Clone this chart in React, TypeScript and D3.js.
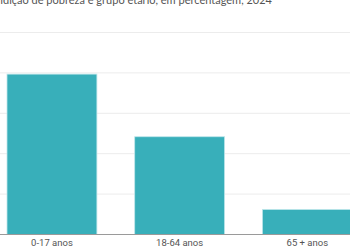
import React from "react";
import * as d3 from "d3";

const categories = ["0-17 anos", "18-64 anos", "65 + anos"];
const values = [39.7, 24.2, 6.2];
const yTicks = [0, 10, 20, 30, 40, 50];
const title = "Proporção da população em condição de pobreza e grupo etário, em percentagem, 2024";

export default function App() {
  const W = 350;
  const H = 250;
  const x = d3
    .scaleBand<string>()
    .domain(categories)
    .range([-11.9, 371.2])
    .paddingInner(0.296)
    .paddingOuter(0.148);
  const y = d3.scaleLinear().domain([0, 50]).range([234.5, 32.5]);

  return (
    <>
      <style>{`body{margin:0}`}</style>
      <svg
        width={W}
        height={H}
        style={{ position: "absolute", left: 0, top: 0, display: "block" }}
      >
        <rect x={0} y={0} width={W} height={H} fill="#fff" />
        <text
          x={272}
          y={4}
          textAnchor="end"
          fontFamily="Lato"
          fontSize={11}
          fill="#555"
        >
          {title}
        </text>
        {yTicks.slice(1).map((t) => (
          <line
            key={t}
            x1={0}
            x2={W}
            y1={y(t)}
            y2={y(t)}
            stroke="#ececec"
            strokeWidth={1}
          />
        ))}
        {categories.map((c, i) => (
          <rect
            key={c}
            x={x(c)}
            y={y(values[i])}
            width={x.bandwidth()}
            height={y(0) - y(values[i])}
            fill="#38afba"
            stroke="#bfe6ea"
            strokeWidth={0.8}
          />
        ))}
        <line x1={0} x2={W} y1={y(0)} y2={y(0)} stroke="#9a9a9a" strokeWidth={1.2} />
        {categories.map((c) => (
          <text
            key={c}
            x={(x(c) as number) + x.bandwidth() / 2}
            y={246}
            textAnchor="middle"
            fontFamily="Roboto"
            fontSize={9.5}
            fill="#555"
          >
            {c}
          </text>
        ))}
      </svg>
    </>
  );
}
